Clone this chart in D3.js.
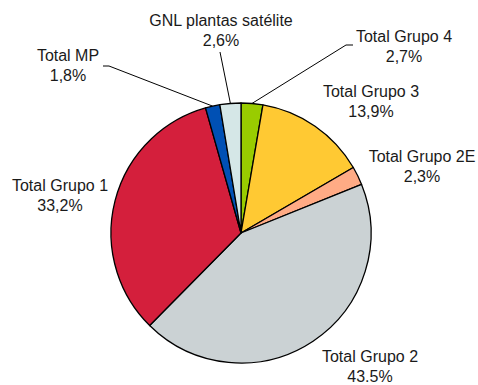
<!DOCTYPE html>
<html><head><meta charset="utf-8">
<script src="https://cdn.jsdelivr.net/npm/d3@7"></script>
<style>body{margin:0;background:#fff}svg{display:block}</style>
</head><body>
<script>
const categories = ["Total Grupo 4","Total Grupo 3","Total Grupo 2E","Total Grupo 2","Total Grupo 1","Total MP","GNL plantas satélite"];
const values = [2.7, 13.9, 2.3, 43.5, 33.2, 1.8, 2.6];
const valueLabels = ["2,7%","13,9%","2,3%","43.5%","33,2%","1,8%","2,6%"];
const colors = ["#99cc00","#ffc933","#ffab85","#cbd2d4","#d41f3c","#0050b4","#d5e7e7"];
// label positions: [center x, first-line baseline]
const labelPos = [[404,42],[371,97],[422,162],[370,362],[60,191],[68,61],[221,26]];

const W = 478, H = 385, cx = 241, cy = 233, R = 130;
const svg = d3.select("body").append("svg").attr("width", W).attr("height", H);
const pie = d3.pie().sort(null).value(d => d)(values);
const arc = d3.arc().innerRadius(0).outerRadius(R);
const g = svg.append("g").attr("transform", `translate(${cx},${cy})`);
g.selectAll("path").data(pie).join("path")
  .attr("d", arc).attr("fill", (d,i) => colors[i])
  .attr("stroke", "#000").attr("stroke-width", 1.3).attr("stroke-linejoin","round");

// leader lines
const leaders = [
  {i:0, pts:[[353,45],[346,45]]},
  {i:5, pts:[[103,66],[109,66]]},
  {i:6, pts:[[220,52]]}
];
leaders.forEach(l => {
  const d = pie[l.i];
  const a = (d.startAngle + d.endAngle)/2;
  const p = [cx + Math.sin(a)*R, cy - Math.cos(a)*R];
  const pts = l.pts.concat([p]);
  svg.append("path").attr("d", d3.line()(pts)).attr("fill","none")
    .attr("stroke","#000").attr("stroke-width",1);
});

labelPos.forEach((p,i) => {
  const t = svg.append("text").attr("x", p[0]).attr("y", p[1]).attr("text-anchor","middle")
    .style("font-family","'Liberation Sans', Arial, sans-serif").style("font-size","16px").attr("fill","#1a1a1a");
  t.append("tspan").attr("x", p[0]).text(categories[i]);
  t.append("tspan").attr("x", p[0]).attr("dy","19.5").text(valueLabels[i]);
});
</script>
</body></html>
